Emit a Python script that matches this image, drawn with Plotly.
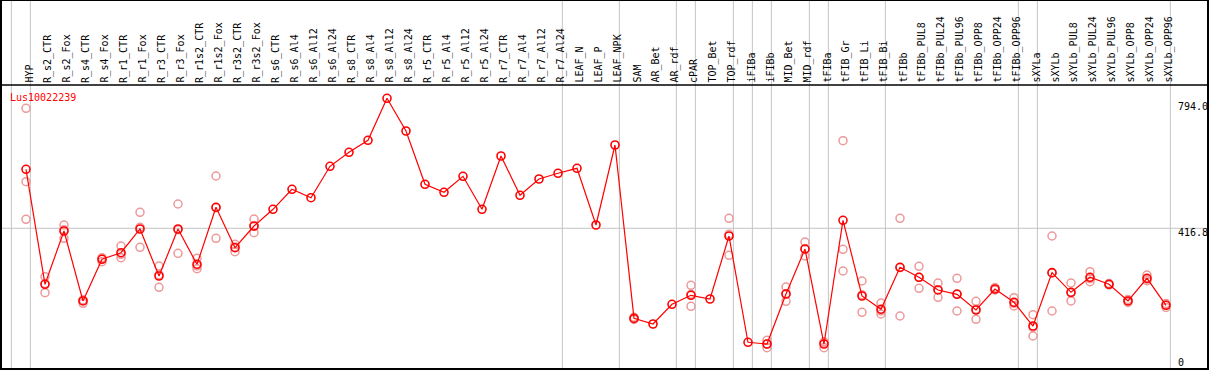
import plotly.graph_objects as go

categories = [
    "HYP", "R_s2_CTR", "R_s2_Fox", "R_s4_CTR", "R_s4_Fox", "R_r1_CTR", "R_r1_Fox",
    "R_r3_CTR", "R_r3_Fox", "R_r1s2_CTR", "R_r1s2_Fox", "R_r3s2_CTR", "R_r3s2_Fox",
    "R_s6_CTR", "R_s6_Al4", "R_s6_Al12", "R_s6_Al24", "R_s8_CTR", "R_s8_Al4",
    "R_s8_Al12", "R_s8_Al24", "R_r5_CTR", "R_r5_Al4", "R_r5_Al12", "R_r5_Al24",
    "R_r7_CTR", "R_r7_Al4", "R_r7_Al12", "R_r7_Al24", "LEAF_N", "LEAF_P", "LEAF_NPK",
    "SAM", "AR_Bet", "AR_rdf", "cPAR", "TOP_Bet", "TOP_rdf", "iFIBa", "iFIBb",
    "MID_Bet", "MID_rdf", "tFIBa", "tFIB_Gr", "tFIB_Li", "tFIB_Bi", "tFIBb",
    "tFIBb_PUL8", "tFIBb_PUL24", "tFIBb_PUL96", "tFIBb_OPP8", "tFIBb_OPP24",
    "tFIBb_OPP96", "sXYLa", "sXYLb", "sXYLb_PUL8", "sXYLb_PUL24", "sXYLb_PUL96",
    "sXYLb_OPP8", "sXYLb_OPP24", "sXYLb_OPP96",
]

means = [
    592.2, 250.3, 408.7, 200.7, 324.6, 344.2, 414.7, 275.0, 414.7, 309.7, 479.2,
    359.1, 423.6, 473.2, 532.7, 507.7, 601.1, 642.7, 678.4, 803.2, 706.0, 547.6,
    523.8, 571.3, 473.2, 631.7, 514.9, 563.3, 580.3, 595.1, 426.6, 664.4,
    149.0, 132.3, 190.8, 217.6, 206.6, 393.9, 77.9, 72.8, 221.5, 355.2, 72.8,
    440.5, 215.5, 176.0, 300.8, 271.1, 233.4, 220.6, 173.9, 236.3, 196.8,
    126.3, 285.0, 226.5, 271.1, 250.3, 200.7, 268.1, 187.9,
]

N = None
rep1 = [773.5, 272.9, 426.6, 203.6, 329.4, 364.1, 464.3, 304.7, 489.0, 327.6, 572.2,
        369.2, 444.4, N, N, N, N, N, N, N, N, N, N, N, N, N, N, N, N, N, N, N,
        146.0, N, N, 247.3, N, 446.5, N, 83.8, 242.3, 376.0, 61.8,
        677.2, 260.1, 194.7, 446.5, 303.8, 254.2, 268.1, 199.8, 240.8, 210.5,
        159.9, 393.9, 254.2, 287.8, 252.7, 205.1, 277.9, 193.2]
rep2 = [555.3, 225.3, 387.0, 193.8, 317.5, 329.4, 360.3, 241.4, 342.4, 296.7, 387.0,
        347.2, 403.7, N, N, N, N, N, N, N, N, N, N, N, N, N, N, N, N, N, N, N,
        152.0, N, N, 184.9, N, 336.5, N, 61.8, 199.8, 334.4, 78.8,
        354.3, 167.1, 162.0, 156.1, 238.4, 211.7, 170.9, 146.3, 233.4, 185.8,
        96.6, 170.9, 200.7, 258.0, 248.2, 196.2, 261.0, 181.3]
rep3 = [443.5, 252.7, 412.6, 203.6, 326.4, 339.5, 419.7, 278.8, 412.6, 304.7, 478.0,
        361.2, 422.7, N, N, N, N, N, N, N, N, N, N, N, N, N, N, N, N, N, N, N,
        149.0, N, N, 220.6, N, 398.9, N, 72.8, 222.4, 355.2, 77.9,
        289.8, 219.4, 170.9, 299.6, 271.1, 234.2, 222.4, 176.0, 234.8, 193.8,
        122.5, 283.9, 224.4, 266.9, 249.7, 200.7, 265.3, 188.8]

# group separators drawn after these category indices (-1 = before the first)
separators_after = [-1, 0, 28, 31, 34, 35, 37, 38, 39, 41, 42, 45, 52, 53, 60]

gene_label = "Lus10022239"
scale_labels = ["794.0", "416.8", "0"]
scale_values = [794.0, 416.8, 0.0]

# ---- geometry ----
W, H = 1209, 370
PX_PER_CAT = 19.0
X0_PX = 26.0            # pixel of first category
ML, MR, MT, MB = 1, 1, 0, 1
PX_PER_UNIT = 0.3364
ZERO_PX = 368.5

x_left = (ML - X0_PX) / PX_PER_CAT
x_right = (W - MR - X0_PX) / PX_PER_CAT
y_top = (ZERO_PX - MT) / PX_PER_UNIT
y_bot = (ZERO_PX - (H - MB)) / PX_PER_UNIT


def py(p):
    return (ZERO_PX - p) / PX_PER_UNIT


def px(p):
    return (p - X0_PX) / PX_PER_CAT


idx = list(range(len(categories)))

fig = go.Figure()

rx, ry = [], []
for reps in (rep1, rep2, rep3):
    for i, v in enumerate(reps):
        if v is not None:
            rx.append(i)
            ry.append(v)

fig.add_trace(go.Scatter(
    x=rx, y=ry, mode="markers",
    marker=dict(symbol="circle-open", size=8, color="#ec9999",
                line=dict(width=1.5, color="#ec9999")),
    hoverinfo="skip", showlegend=False))

fig.add_trace(go.Scatter(
    x=idx, y=means, mode="lines+markers",
    line=dict(color="#ff0000", width=1.2),
    marker=dict(symbol="circle-open", size=8, color="#ff0000",
                line=dict(width=1.6, color="#ff0000")),
    hoverinfo="skip", showlegend=False))

shapes = []
for k in separators_after:
    xs = k + 0.23
    shapes.append(dict(type="line", xref="x", yref="paper", x0=xs, x1=xs, y0=0, y1=1,
                       line=dict(color="#c4c4c4", width=1), layer="below"))
shapes.append(dict(type="line", xref="paper", yref="y", x0=0, x1=1, y0=416.8, y1=416.8,
                   line=dict(color="#c4c4c4", width=1), layer="below"))
# header separator line
shapes.append(dict(type="line", xref="paper", yref="y", x0=0, x1=1, y0=py(85), y1=py(85),
                   line=dict(color="black", width=1.5)))
# outer frame
shapes.append(dict(type="rect", xref="paper", yref="paper", x0=0, x1=1, y0=0, y1=1,
                   line=dict(color="black", width=2), fillcolor="rgba(0,0,0,0)"))

font_mono = "DejaVu Sans Mono"
LABEL_SHIFT = 2.5 / PX_PER_CAT
annotations = []
for i, c in enumerate(categories):
    annotations.append(dict(x=i + LABEL_SHIFT, y=py(84), xref="x", yref="y", text=c,
                            showarrow=False, textangle=-90, xanchor="center",
                            yanchor="bottom",
                            font=dict(family=font_mono, size=10, color="black"),
                            borderpad=0))

annotations.append(dict(x=px(9), y=py(97), xref="x", yref="y", text=gene_label,
                        showarrow=False, xanchor="left", yanchor="middle",
                        font=dict(family=font_mono, size=10, color="#ff0000"), borderpad=0))

label_centres = [106.5, 232.5, 362.0]
for t, c in zip(scale_labels, label_centres):
    annotations.append(dict(x=px(1177), y=py(c), xref="x", yref="y", text=t,
                            showarrow=False, xanchor="left", yanchor="middle",
                            font=dict(family=font_mono, size=10, color="black"),
                            borderpad=0))

fig.update_layout(
    width=W, height=H,
    margin=dict(l=ML, r=MR, t=MT, b=MB, pad=0),
    paper_bgcolor="white", plot_bgcolor="white",
    xaxis=dict(range=[x_left, x_right], visible=False, fixedrange=True),
    yaxis=dict(range=[y_bot, y_top], visible=False, fixedrange=True),
    shapes=shapes, annotations=annotations,
    hovermode=False,
)

fig.write_html(
    "out.html",
    config={"displayModeBar": False},
    post_script="document.body.style.margin='0';document.body.style.overflow='hidden';",
)
